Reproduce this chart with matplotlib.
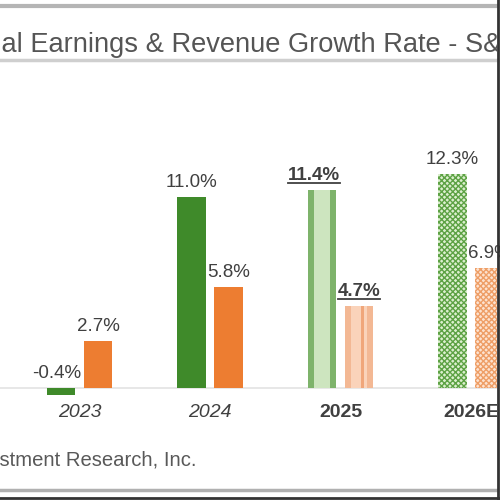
import matplotlib
matplotlib.use("Agg")
import matplotlib.pyplot as plt
from matplotlib.lines import Line2D
import numpy as np

years = ["2023", "2024", "2025", "2026E"]
earnings = [-0.4, 11.0, 11.4, 12.3]
revenue = [2.7, 5.8, 4.7, 6.9]
earn_labels = ["-0.4%", "11.0%", "11.4%", "12.3%"]
rev_labels = ["2.7%", "5.8%", "4.7%", "6.9%"]
title = "Annual Earnings & Revenue Growth Rate - S&P 500"
source = "Source: Zacks Investment Research, Inc."

plt.rcParams['font.family'] = ['Liberation Sans', 'DejaVu Sans']

fig = plt.figure(figsize=(5, 5), dpi=100)
ax = fig.add_axes([0, 0, 497 / 500, 1])
ax.set_xlim(-0.609, -0.609 + 497 / 130.5)
ax.set_ylim(-112 / 17.4, 388 / 17.4)
ax.axis('off')

x = np.arange(len(years))
w = 0.22
off = 0.142

green = '#3f8a2a'
orange = '#ed7d31'

for i in range(len(years)):
    gx = x[i] - off
    ox = x[i] + off
    if i < 2:
        ax.bar(gx, earnings[i], w, color=green, lw=0, zorder=3)
        ax.bar(ox, revenue[i], w, color=orange, lw=0, zorder=3)
    elif i == 2:
        ax.bar(gx, earnings[i], w, color='#7eb36b', lw=0, zorder=3)
        ax.bar(gx, earnings[i], w * 0.58, color='#cde5bf', lw=0, zorder=3)
        ax.bar(ox, revenue[i], w, color='#f3b894', lw=0, zorder=3)
        ax.bar(ox, revenue[i], w * 0.58, color='#fad3ba', lw=0, zorder=3)
        ax.bar(ox + w * 0.12, revenue[i], w * 0.12, color='#f0a67a', lw=0, zorder=3)
    else:
        ax.bar(gx, earnings[i], w, color='#dcefcf', edgecolor='#5da244',
               linewidth=0, hatch='xxxxxx', zorder=3)
        ax.bar(ox, revenue[i], w, color='#fde2cf', edgecolor='#ee9e66',
               linewidth=0, hatch='xxxxxx', zorder=3)

ax.axhline(0, color='#e3e3e3', lw=1.2, zorder=2)

lab_color = '#404040'
texts_to_underline = []
for i in range(len(years)):
    bold = (i == 2)
    ey = max(earnings[i], 0) + 0.35
    ex = x[i] - off - (0.06 if i == 2 else 0.0)
    if i == 0:
        ex = x[i] - off - 0.03
    t = ax.text(ex, ey, earn_labels[i], ha='center', va='bottom', fontsize=13.5,
                color=lab_color, fontweight='bold' if bold else 'normal', zorder=4)
    if bold:
        texts_to_underline.append(t)
    ry = revenue[i] + 0.35
    t2 = ax.text(x[i] + off, ry, rev_labels[i], ha='center', va='bottom', fontsize=13.5,
                 color=lab_color, fontweight='bold' if bold else 'normal', zorder=4)
    if bold:
        texts_to_underline.append(t2)

for i, yr in enumerate(years):
    style = 'italic' if i < 2 else 'normal'
    weight = 'normal' if i < 2 else 'bold'
    ax.text(x[i], -1.38, yr, ha='center', va='center', fontsize=14,
            color='#404040', style=style, fontweight=weight, clip_on=True)

# title: position so that the visible part starts with "al Earnings"
fig.canvas.draw()
r = fig.canvas.get_renderer()
tfs = 19.6
probe = fig.text(0, 0, "Annu", fontsize=tfs)
pw = probe.get_window_extent(renderer=r).width
probe.remove()
ax.text(-pw / 500 + 0.004, 1 - 45 / 500, title, transform=fig.transFigure, ha='left',
        va='center', fontsize=tfs, color='#555555', clip_on=True)
fig.text(197 / 500, 1 - 460 / 500, source, ha='right', va='center', fontsize=14.6,
         color='#595959')

# underline bold labels
fig.canvas.draw()
for t in texts_to_underline:
    bb = t.get_window_extent(renderer=r)
    fx0, fx1 = bb.x0 / 500, bb.x1 / 500
    fy = (bb.y0 + 1) / 500
    fig.add_artist(Line2D([fx0, fx1], [fy, fy], transform=fig.transFigure,
                          color=lab_color, lw=1.3))

# frame lines
fig.add_artist(Line2D([0, 497 / 500], [1 - 6 / 500, 1 - 6 / 500], transform=fig.transFigure,
                      color='#b5b5b5', lw=3))
fig.add_artist(Line2D([0, 497 / 500], [1 - 60 / 500, 1 - 60 / 500], transform=fig.transFigure,
                      color='#cfcfcf', lw=2.5))
fig.add_artist(Line2D([0, 497 / 500], [1 - 490 / 500, 1 - 490 / 500], transform=fig.transFigure,
                      color='#b0b0b0', lw=2.5))
fig.add_artist(Line2D([0, 1], [1 - 497.5 / 500, 1 - 497.5 / 500], transform=fig.transFigure,
                      color='#333333', lw=2))
fig.add_artist(Line2D([497.5 / 500, 497.5 / 500], [0, 1], transform=fig.transFigure,
                      color='#333333', lw=2))

fig.savefig("out.png", dpi=100)
